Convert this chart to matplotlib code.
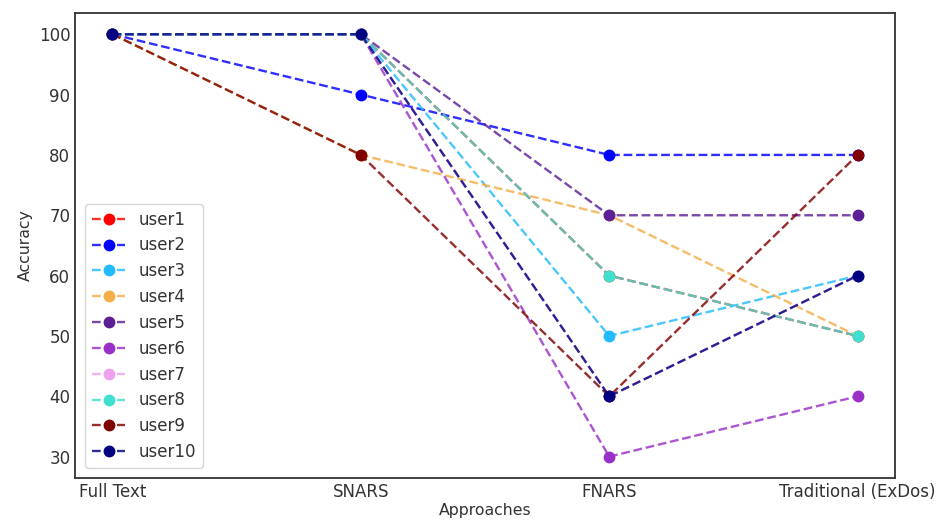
"""
Accuracy per user across text approaches
"""

import matplotlib
matplotlib.use("Agg")
import matplotlib.pyplot as plt
from matplotlib.colors import to_rgba
import seaborn as sns

approaches = ['Full Text', 'SNARS', 'FNARS', 'Traditional (ExDos)']

users = ['user1', 'user2', 'user3', 'user4', 'user5',
         'user6', 'user7', 'user8', 'user9', 'user10']

user1 = [100, 100, 60, 50]
user2 = [100, 90, 80, 80]
user3 = [100, 100, 50, 60]
user4 = [100, 80, 70, 50]
user5 = [100, 100, 70, 70]
user6 = [100, 100, 30, 40]
user7 = [100, 100, 40, 60]
user8 = [100, 100, 60, 50]
user9 = [100, 80, 40, 80]
user10 = [100, 100, 40, 60]

colors = ['red', 'blue', '#22bbff', '#f5ae48', '#5c1f95',
          '#9a30c8', '#f0a0ee', '#40e0d0', '#800000', '#000080']


def main():
    sns.set_style('white')
    plt.rcParams['font.family'] = ['DejaVu Sans']

    series = [user1, user2, user3, user4, user5,
              user6, user7, user8, user9, user10]

    fig, ax = plt.subplots(figsize=(9.4, 5.25), dpi=100)
    x = list(range(len(approaches)))

    for name, vals, c in zip(users, series, colors):
        ax.plot(x, vals, linestyle='--', marker='o', color=to_rgba(c, 0.82),
                markerfacecolor=c, markeredgecolor=c, markersize=7.5,
                linewidth=1.7, label=name)

    ax.set_xticks(x)
    ax.set_xticklabels(approaches)
    ax.tick_params(axis='both', labelsize=12, colors='.2', length=0)
    ax.set_xlabel('Approaches', fontsize=11.3, color='.2', labelpad=2)
    ax.set_ylabel('Accuracy', fontsize=11.3, color='.2')

    for spine in ax.spines.values():
        spine.set_color('.2')
        spine.set_linewidth(1.3)

    leg = ax.legend(loc='lower left', fontsize=12, frameon=True,
                    handlelength=2.0, labelspacing=0.47,
                    borderaxespad=0.6)
    for t in leg.get_texts():
        t.set_color('.2')

    fig.subplots_adjust(left=0.08, right=0.952, top=0.975, bottom=0.09)
    fig.savefig('out.png', dpi=100)


if __name__ == "__main__":
    main()
